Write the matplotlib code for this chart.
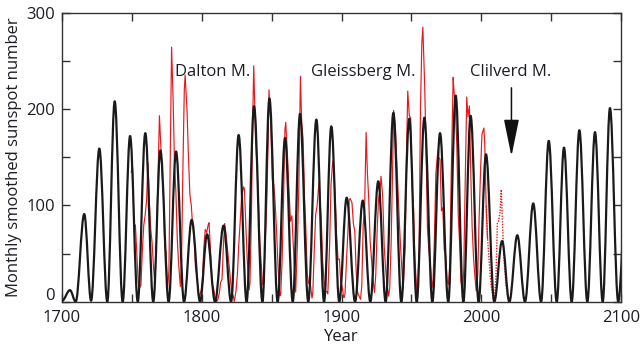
import matplotlib
matplotlib.use("Agg")
import matplotlib.pyplot as plt
from matplotlib.path import Path
from matplotlib.patches import PathPatch
from matplotlib.ticker import MultipleLocator, FuncFormatter

plt.rcParams['font.family'] = ['Open Sans', 'DejaVu Sans']

# ---- model curve: successive extrema (year, sunspot number) ----
model_years = [1700.0, 1705.7, 1709.8, 1715.9, 1720.8, 1726.7, 1732.4, 1737.7, 1743.4,
               1748.7, 1754.2, 1759.6, 1765.3, 1770.4, 1776.3, 1781.6, 1787.3, 1792.8,
               1798.8, 1803.8, 1809.5, 1815.6, 1821.0, 1826.4, 1832.1, 1837.4, 1843.4,
               1848.4, 1854.3, 1859.6, 1865.1, 1870.3, 1876.2, 1882.0, 1887.5, 1892.7,
               1898.4, 1903.7, 1909.7, 1915.2, 1920.6, 1926.3, 1931.6, 1937.1, 1942.8,
               1948.5, 1953.8, 1959.3, 1965.0, 1970.5, 1976.4, 1981.7, 1987.2, 1992.4,
               1998.1, 2003.4, 2009.3, 2014.9, 2020.1, 2025.8, 2031.3, 2037.2, 2042.8,
               2048.3, 2054.0, 2059.2, 2064.7, 2070.2, 2075.9, 2081.4, 2086.9, 2092.1,
               2098.0, 2103.6]
model_ssn = [1, 12, 0, 91, 1, 159, 0, 208, 0,
             172, 0, 175, 0, 157, 0, 156, 0, 85,
             0, 70, 0, 79, 0, 173, 0, 203, 0,
             211, 0, 170, 0, 195, 0, 189, 0, 182,
             0, 108, 0, 105, 0, 125, 0, 196, 0,
             190, 0, 191, 0, 175, 0, 214, 0, 193,
             0, 153, 0, 63, 0, 69, 0, 102, 0,
             167, 0, 160, 0, 178, 0, 176, 0, 201,
             0, 110]

# ---- observed sunspot number: annual values from 1749 ----
obs_start = 1749
obs_annual = [134.7,
    139.0, 79.5, 79.7, 51.2, 20.3, 16.0, 17.0, 54.0, 79.3, 90.0,
    104.8, 143.2, 102.0, 75.2, 60.7, 34.8, 19.0, 63.0, 116.3, 176.8,
    168.0, 136.0, 110.8, 58.0, 51.0, 11.7, 33.0, 154.2, 257.3, 209.8,
    141.3, 113.5, 64.2, 38.0, 17.0, 40.2, 138.2, 220.0, 218.2, 196.8,
    149.8, 111.0, 100.0, 78.2, 68.3, 35.5, 26.7, 10.7, 6.8, 11.3,
    24.2, 56.7, 75.0, 71.8, 79.2, 70.3, 46.8, 16.8, 13.5, 4.2,
    0.0, 2.3, 8.3, 20.3, 23.2, 59.0, 76.3, 68.3, 52.9, 38.5,
    24.2, 9.2, 6.3, 2.2, 11.4, 28.2, 59.9, 83.0, 108.5, 115.2,
    117.4, 80.8, 44.3, 13.4, 19.5, 85.8, 192.7, 227.3, 168.7, 143.0,
    105.5, 63.3, 40.3, 18.1, 25.1, 65.8, 102.7, 166.3, 208.3, 182.5,
    126.3, 122.0, 102.7, 74.1, 39.0, 12.7, 8.2, 43.4, 104.4, 178.3,
    182.2, 146.6, 112.1, 83.5, 89.2, 57.8, 30.7, 13.9, 62.8, 123.6,
    232.0, 185.3, 169.2, 110.1, 74.5, 28.3, 18.9, 20.7, 5.7, 10.0,
    53.7, 90.5, 99.0, 106.1, 105.8, 86.3, 42.4, 21.8, 11.2, 10.4,
    11.8, 59.5, 121.7, 142.0, 130.0, 106.6, 69.4, 43.8, 44.4, 20.2,
    15.7, 4.6, 8.5, 40.8, 70.1, 105.5, 90.1, 102.8, 80.9, 73.2,
    30.9, 9.5, 6.0, 2.4, 16.1, 79.0, 95.0, 173.6, 134.6, 105.7,
    62.7, 43.5, 23.7, 9.7, 27.9, 74.0, 106.5, 114.7, 129.7, 108.2,
    59.4, 35.1, 18.6, 9.2, 14.6, 60.2, 132.8, 190.6, 182.6, 148.0,
    113.0, 79.2, 50.8, 27.1, 16.1, 55.3, 154.3, 214.7, 193.0, 190.7,
    118.9, 98.3, 45.0, 20.1, 6.6, 54.2, 200.7, 269.3, 261.7, 225.1,
    159.0, 76.4, 53.4, 39.9, 15.0, 22.0, 66.8, 132.9, 150.0, 149.4,
    148.0, 94.4, 97.6, 54.1, 49.2, 22.5, 18.4, 39.3, 131.0, 220.1,
    218.9, 198.9, 162.4, 91.0, 60.5, 20.6, 14.8, 33.9, 123.0, 211.1,
    191.8, 203.3, 133.0, 76.1, 44.9, 25.1, 11.6, 28.9, 88.3, 136.3,
    173.9, 170.4, 163.6, 99.3, 65.3, 45.8, 24.7, 12.6, 4.2, 4.8,
    24.9, 80.8, 84.5, 94.0, 113.3, 69.8, 39.8, 21.7, 7.0, 3.6]

# smoothed cycle extrema (year, value)
obs_ext_years = [1755.2, 1761.5, 1766.5, 1769.7, 1775.5, 1778.4, 1784.7, 1788.1,
                 1798.3, 1805.2, 1810.6, 1816.4, 1823.3, 1829.9, 1833.9, 1837.2,
                 1843.5, 1848.1, 1856.0, 1860.1, 1867.2, 1870.6, 1878.9, 1883.9,
                 1890.2, 1894.1, 1902.0, 1906.2, 1913.6, 1917.6, 1923.6, 1928.3,
                 1933.7, 1937.3, 1944.1, 1947.4, 1954.3, 1958.2, 1964.8, 1968.9,
                 1976.5, 1979.9, 1986.8, 1989.6, 1996.4, 2001.9, 2008.9, 2014.3,
                 2019.9]
obs_ext_ssn = [14.0, 144.1, 18.6, 193.0, 12.0, 264.3, 15.9, 235.3,
               5.3, 82.0, 0.0, 81.2, 0.2, 119.2, 12.2, 244.9,
               17.6, 219.9, 6.0, 186.2, 9.9, 234.0, 3.7, 124.4,
               8.3, 146.5, 4.5, 107.1, 2.5, 175.7, 9.4, 130.2,
               5.8, 198.6, 12.9, 218.7, 5.1, 285.0, 14.3, 156.6,
               17.8, 232.9, 13.5, 212.5, 11.2, 180.3, 2.2, 116.4,
               1.8]
obs_split_year = 2004.5   # observed (solid) / later (dotted)

labels_text = ["Dalton M.", "Gleissberg M.", "Clilverd M."]
labels_year = [1780.9, 1878.0, 1992.0]
labels_ssn = [234, 234, 234]
arrow_year = 2021.6
arrow_from, arrow_to = 222, 151

# ---- assemble observed series ----
pts = [(e, v) for e, v in zip(obs_ext_years, obs_ext_ssn)]
for i, v in enumerate(obs_annual):
    t = obs_start + i + 0.5
    if all(abs(t - e) > 0.45 for e in obs_ext_years):
        pts.append((t, v))
pts.sort()
solid = [(t, v) for t, v in pts if t <= obs_split_year]
dotted = [(t, v) for t, v in pts if t >= obs_split_year - 1.0]

fig = plt.figure(figsize=(6.42, 3.54), dpi=100)
ax = fig.add_axes([0.0966, 0.1477, 0.8707, 0.8164])

ax.plot([p[0] for p in solid], [p[1] for p in solid], color='#e8191e', lw=0.85, zorder=2)
ax.plot([p[0] for p in dotted], [p[1] for p in dotted], color='#e8191e', lw=1.0,
        ls=(0, (1, 1)), zorder=2)

# model curve as smooth Bezier through extrema
c = 0.36
verts = [(model_years[0], model_ssn[0])]
codes = [Path.MOVETO]
for i in range(len(model_years) - 1):
    t0, v0 = model_years[i], model_ssn[i]
    t1, v1 = model_years[i + 1], model_ssn[i + 1]
    d = t1 - t0
    verts += [(t0 + c * d, v0), (t1 - c * d, v1), (t1, v1)]
    codes += [Path.CURVE4] * 3
patch = PathPatch(Path(verts, codes), facecolor='none', edgecolor='#1a1a1a',
                  lw=1.6, zorder=3, joinstyle='round')
ax.add_patch(patch)

for txt, x, y in zip(labels_text, labels_year, labels_ssn):
    ax.text(x, y, txt, fontsize=12, color='#1c1c24', ha='left', va='baseline', zorder=5)

ax.annotate('', xy=(arrow_year, arrow_to), xytext=(arrow_year, arrow_from),
            arrowprops=dict(arrowstyle='-|>,head_length=2.3,head_width=0.47',
                            color='#111111', lw=1.1, shrinkA=0, shrinkB=0,
                            mutation_scale=10), zorder=5)

ax.set_xlim(1700, 2100)
ax.set_ylim(0, 300)
ax.xaxis.set_major_locator(MultipleLocator(50))
ax.yaxis.set_major_locator(MultipleLocator(50))
xfmt = FuncFormatter(lambda v, p: f"{int(round(v))}" if round(v) % 100 == 0 else "")
# the "0" of the y axis sits slightly raised in the reference; drawn separately
yfmt = FuncFormatter(lambda v, p: f"{int(round(v))}" if (round(v) % 100 == 0 and round(v) != 0) else "")
ax.xaxis.set_major_formatter(xfmt)
ax.yaxis.set_major_formatter(yfmt)
ax.tick_params(direction='in', length=5.5, width=1.0, top=True, right=True,
               labelsize=12, color='#333333', labelcolor='#1c1c24')
ax.tick_params(axis='x', pad=6)
ax.tick_params(axis='y', pad=5)
ax.annotate('0', xy=(0, 0), xycoords=('axes fraction', 'data'),
            xytext=(-5, 3.8), textcoords='offset points', ha='right', va='center',
            fontsize=12, color='#1c1c24', annotation_clip=False)
for s in ax.spines.values():
    s.set_linewidth(1.0)
    s.set_color('#333333')
ax.set_xlabel('Year', fontsize=12, color='#1c1c24', labelpad=2)
ax.set_ylabel('Monthly smoothed sunspot number', fontsize=12, color='#1c1c24', labelpad=3)

fig.savefig('out.png', dpi=100)
